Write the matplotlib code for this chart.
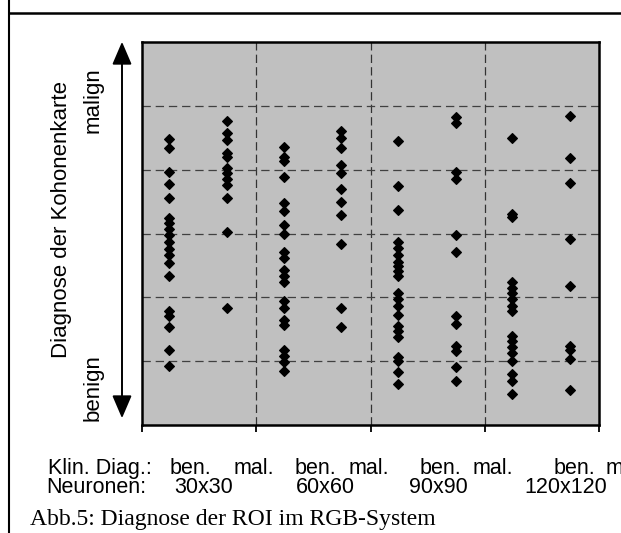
import numpy as np
import matplotlib.pyplot as plt
from matplotlib.patches import FancyArrowPatch
from matplotlib.lines import Line2D

# Kohonen map diagnosis per column (0 = benign ... 6 = malign)
ben_30 = [4.48, 4.34, 3.96, 3.78, 3.55, 3.24, 3.17, 3.07, 2.98, 2.86, 2.76, 2.66,
          2.54, 2.34, 1.78, 1.71, 1.54, 1.18, 0.92]
mal_30 = [4.77, 4.57, 4.46, 4.26, 4.20, 4.02, 3.95, 3.85, 3.76, 3.56, 3.03, 1.83]
ben_60 = [4.35, 4.20, 4.13, 3.88, 3.47, 3.36, 3.14, 2.99, 2.71, 2.62, 2.43, 2.33,
          2.24, 1.94, 1.83, 1.65, 1.57, 1.17, 1.08, 0.98, 0.84]
mal_60 = [4.60, 4.49, 4.34, 4.07, 3.94, 3.69, 3.49, 3.29, 2.83, 1.83, 1.53]
ben_90 = [4.45, 3.75, 3.37, 2.86, 2.77, 2.67, 2.56, 2.49, 2.41, 2.33, 2.07, 1.98,
          1.87, 1.73, 1.55, 1.47, 1.38, 1.07, 1.00, 0.83, 0.65]
mal_90 = [4.82, 4.73, 3.96, 3.86, 2.98, 2.71, 1.70, 1.59, 1.23, 1.16, 0.91, 0.69]
ben_120 = [4.49, 3.31, 3.26, 2.24, 2.15, 2.07, 1.98, 1.86, 1.78, 1.39, 1.31, 1.22,
           1.13, 1.01, 0.80, 0.69, 0.49]
mal_120 = [4.84, 4.19, 3.79, 2.91, 2.17, 1.23, 1.17, 1.04, 0.55]

neuronen = ['30x30', '60x60', '90x90', '120x120']
ben_sets = [ben_30, ben_60, ben_90, ben_120]
mal_sets = [mal_30, mal_60, mal_90, mal_120]

W, H = 621, 533
plt.rcParams['lines.scale_dashes'] = False
fig = plt.figure(figsize=(W / 100, H / 100), dpi=100)

def fx(x):
    return x / W

def fy(y):
    return 1 - y / H

ax = fig.add_axes([fx(142), fy(425), (599 - 142) / W, (425 - 42) / H])
ax.set_facecolor('#c0c0c0')

for i in range(4):
    ax.plot([i + 0.24] * len(ben_sets[i]), ben_sets[i], 'D', color='black', ms=5.4, mew=0.8)
    ax.plot([i + 0.745] * len(mal_sets[i]), mal_sets[i], 'D', color='black', ms=5.4, mew=0.8)

ax.set_xlim(0, 4)
ax.set_ylim(0, 6)
for v in range(1, 4):
    ax.axvline(v, color='#333333', lw=0.9, ls=(0, (6, 3)), zorder=1)
for v in range(1, 6):
    ax.axhline(v, color='#404040', lw=0.9, ls=(0, (6, 3.5)), zorder=1)

ax.set_xticks(range(5))
ax.set_xticklabels([])
ax.set_yticks([])
ax.tick_params(axis='x', direction='out', length=5, width=1.3, colors='black')
for s in ax.spines.values():
    s.set_linewidth(1.8)

# vertical double arrow
arr = FancyArrowPatch((fx(122), fy(39)), (fx(122), fy(421)), transform=fig.transFigure,
                      arrowstyle='<|-|>,head_length=14,head_width=6', mutation_scale=1,
                      color='black', lw=1.4)
fig.add_artist(arr)

sans = 'Liberation Sans'
fig.text(fx(62), fy(219), 'Diagnose der Kohonenkarte', rotation=90, ha='center', va='center',
         fontsize=16, family=sans)
fig.text(fx(93.5), fy(100), 'malign', rotation=90, ha='center', va='center', fontsize=16, family=sans)
fig.text(fx(93.5), fy(388), 'benign', rotation=90, ha='center', va='center', fontsize=16, family=sans)

# bottom labels
fig.text(fx(47.5), fy(474), 'Klin. Diag.:', fontsize=15.5, family=sans, va='baseline')
for xb in [170, 295, 420, 554]:
    fig.text(fx(xb), fy(474), 'ben.', fontsize=15.5, family=sans, va='baseline')
for xm in [234, 348.5, 473, 606]:
    fig.text(fx(xm), fy(474), 'mal.', fontsize=15.5, family=sans, va='baseline')
fig.text(fx(46.7), fy(493), 'Neuronen:', fontsize=15.5, family=sans, va='baseline')
for xn, lab in zip([204, 325, 438, 566], neuronen):
    fig.text(fx(xn), fy(493), lab, fontsize=15.5, family=sans, va='baseline', ha='center')

fig.text(fx(29.7), fy(525), 'Abb.5: Diagnose der ROI im RGB-System', fontsize=17,
         family='Liberation Serif', va='baseline')

# page frame lines
fig.add_artist(Line2D([fx(8.5), fx(8.5)], [0, 1], transform=fig.transFigure, color='black', lw=1.5))
fig.add_artist(Line2D([fx(8.5), 1], [fy(12.5), fy(12.5)], transform=fig.transFigure, color='black', lw=1.8))

fig.savefig('out.png', dpi=100)
